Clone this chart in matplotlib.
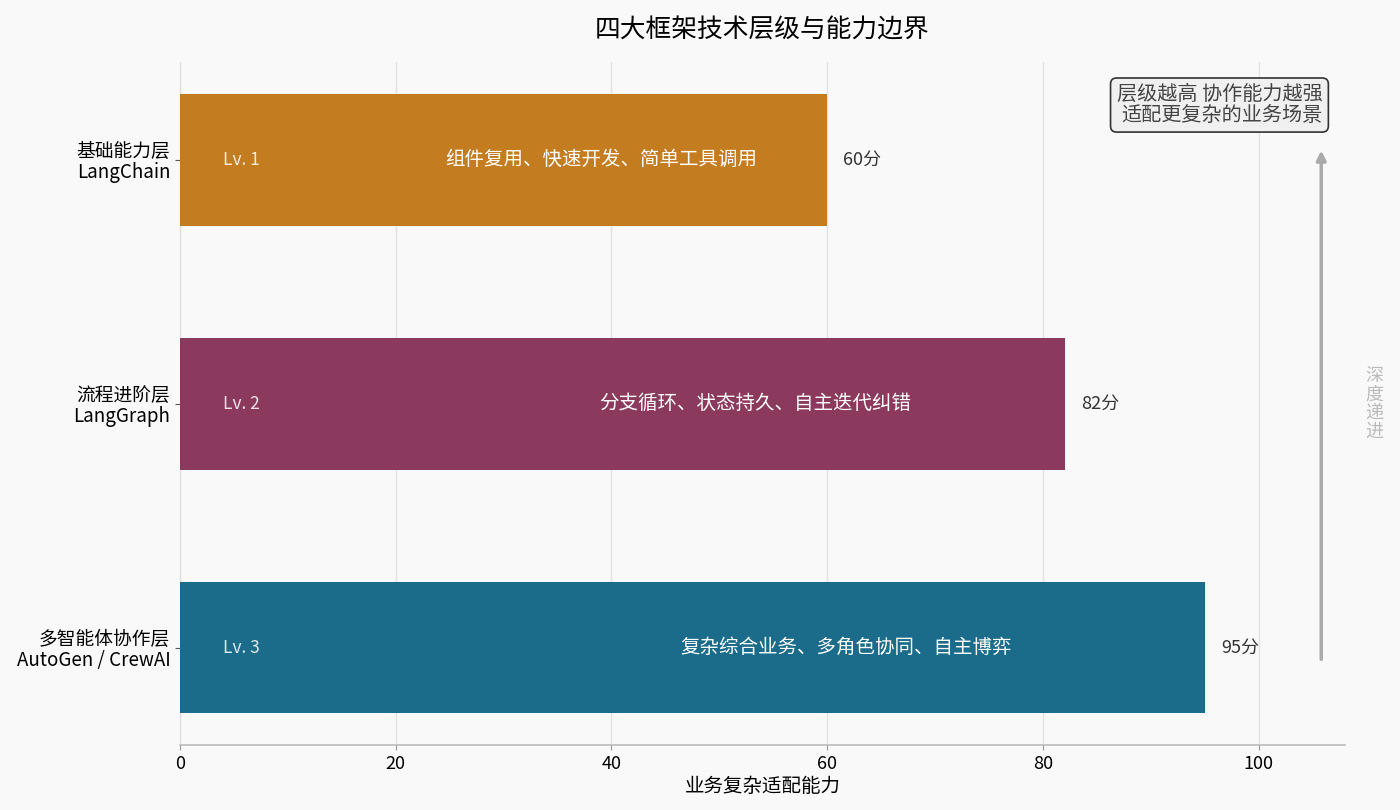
import numpy as np
import matplotlib.pyplot as plt

plt.rcParams['font.family'] = ['Noto Sans CJK SC', 'DejaVu Sans']

# data
layers = ['基础能力层\nLangChain', '流程进阶层\nLangGraph', '多智能体协作层\nAutoGen / CrewAI']
levels = ['Lv. 1', 'Lv. 2', 'Lv. 3']
scores = [60, 82, 95]
descs = ['组件复用、快速开发、简单工具调用', '分支循环、状态持久、自主迭代纠错', '复杂综合业务、多角色协同、自主博弈']
colors = ['#C47C20', '#8B3A5E', '#1B6B8A']

fig = plt.figure(figsize=(14, 8.1), dpi=100, facecolor='#F9F9F9')
ax = fig.add_axes([0.1286, 0.0802, 0.8321, 0.8428])
ax.set_facecolor('#F9F9F9')

ypos = np.arange(len(layers))[::-1]
ax.barh(ypos, scores, height=0.54, color=colors, zorder=3)

for y, lv, s, d in zip(ypos, levels, scores, descs):
    ax.text(4, y, lv, ha='left', va='center', color='white', alpha=0.85, fontsize=12.5, zorder=4)
    ax.text(s * 0.65, y, d, ha='center', va='center', color='white', fontsize=14, zorder=4)
    ax.text(s + 1.5, y, f'{s}分', ha='left', va='center', color='#333333', fontsize=13, zorder=4)

ax.set_yticks(ypos)
ax.set_yticklabels(layers, fontsize=13.5, linespacing=1.0)
ax.set_xlim(0, 108)
ax.set_ylim(-0.4, 2.4)
ax.set_xticks([0, 20, 40, 60, 80, 100])
ax.tick_params(axis='x', labelsize=13, color='#999999')
ax.tick_params(axis='y', color='#555555')
ax.set_xlabel('业务复杂适配能力', fontsize=14, labelpad=2)
ax.set_title('四大框架技术层级与能力边界', fontsize=18.5, pad=18)

ax.grid(axis='x', color='#E3E3E3', linewidth=1, zorder=0)
for side in ['top', 'right']:
    ax.spines[side].set_visible(False)
ax.spines['left'].set_color('#DDDDDD')
ax.spines['bottom'].set_color('#BBBBBB')
ax.spines['bottom'].set_linewidth(1.2)

# arrow on the right
ax.annotate('', xy=(105.8, 2.05), xytext=(105.8, -0.06),
            arrowprops=dict(arrowstyle='-|>', color='#AAAAAA', lw=2.5, mutation_scale=14),
            annotation_clip=False)
ax.text(110.7, 1.0, '\n'.join('深度递进'), ha='center', va='center', color='#BBBBBB',
        fontsize=13, linespacing=1.05, clip_on=False)

ax.text(105.9, 2.225, '层级越高 协作能力越强\n适配更复杂的业务场景', ha='right', va='center',
        multialignment='right', fontsize=14.5, color='#444444', linespacing=1.0, zorder=5,
        bbox=dict(boxstyle='round,pad=0.3', facecolor='#F0F0F0', edgecolor='#333333', lw=1.2))

plt.savefig('out.png', dpi=100, facecolor=fig.get_facecolor())
